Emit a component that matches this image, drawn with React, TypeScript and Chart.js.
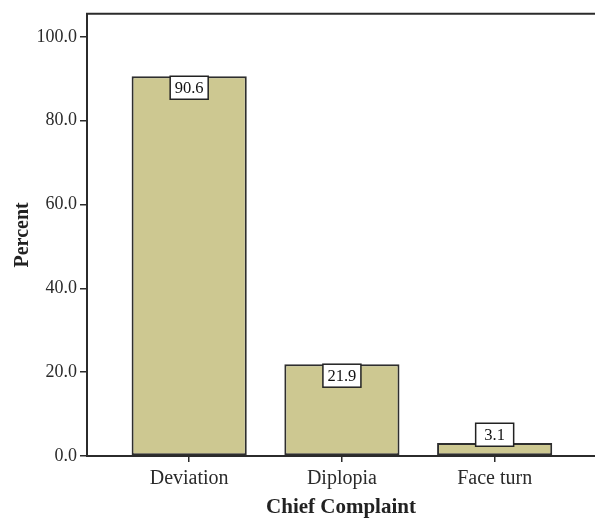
import React, { useEffect, useRef } from "react";
import { Chart, registerables } from "chart.js";

Chart.register(...registerables);

const categories = ["Deviation", "Diplopia", "Face turn"];
const percentValues = [90.6, 21.9, 3.1];
const yTickValues = [0, 20, 40, 60, 80, 100];
const xTitle = "Chief Complaint";
const yTitle = "Percent";

const FONT = "'Liberation Serif', 'DejaVu Serif', serif";
const AXIS = "#2b2b2b";

const labelPlugin = {
  id: "boxLabels",
  afterDatasetsDraw(chart: any) {
    const ctx = chart.ctx;
    const meta = chart.getDatasetMeta(0);
    meta.data.forEach((bar: any, i: number) => {
      const w = 38;
      const h = 23;
      const top = Math.min(bar.y, bar.base - 32);
      const left = bar.x - w / 2;
      ctx.save();
      ctx.fillStyle = "#ffffff";
      ctx.fillRect(left, top, w, h);
      ctx.strokeStyle = "#222";
      ctx.lineWidth = 1.5;
      ctx.strokeRect(left, top, w, h);
      ctx.fillStyle = "#111";
      ctx.font = `16.5px ${FONT}`;
      ctx.textAlign = "center";
      ctx.textBaseline = "middle";
      ctx.fillText(percentValues[i].toFixed(1), bar.x, top + h / 2 + 1);
      ctx.restore();
    });
  },
};

const framePlugin = {
  id: "frameTop",
  afterDraw(chart: any) {
    const { ctx, chartArea } = chart;
    ctx.save();
    ctx.strokeStyle = AXIS;
    ctx.lineWidth = 2;
    ctx.beginPath();
    ctx.moveTo(chartArea.left - 1, chartArea.top);
    ctx.lineTo(chart.width, chartArea.top);
    ctx.stroke();
    ctx.restore();
  },
};

export default function App() {
  const ref = useRef<HTMLCanvasElement | null>(null);
  useEffect(() => {
    document.body.style.margin = "0";
    if (!ref.current) return;
    const chart = new Chart(ref.current, {
      type: "bar",
      data: {
        datasets: [
          {
            data: percentValues.map((v, i) => ({ x: i, y: v })),
            backgroundColor: "#cdc891",
            borderColor: "#2e2e2e",
            borderWidth: 2,
            borderSkipped: false,
            categoryPercentage: 1,
            barPercentage: 0.754,
          },
        ],
      },
      options: {
        animation: false,
        responsive: false,
        layout: { padding: { top: 12, right: 0, left: 0, bottom: 0 } },
        plugins: { legend: { display: false }, tooltip: { enabled: false } },
        scales: {
          x: {
            type: "linear",
            offset: false,
            min: -0.669,
            max: 2.657,
            afterBuildTicks: (scale: any) => {
              scale.ticks = categories.map((_, i) => ({ value: i }));
            },
            afterFit: (scale: any) => {
              scale.height = 62;
            },
            ticks: {
              callback: (v: any) => categories[Math.round(Number(v))],
              font: { family: FONT, size: 20 },
              color: "#2a2a2a",
              padding: 5,
              maxRotation: 0,
              autoSkip: false,
            },
            grid: {
              offset: false,
              drawOnChartArea: false,
              drawTicks: true,
              tickLength: 6,
              color: AXIS,
              lineWidth: 1.5,
            },
            border: { display: true, color: AXIS, width: 2 },
            title: {
              display: true,
              text: xTitle,
              font: { family: FONT, size: 21, weight: "bold", lineHeight: 1.0 },
              color: "#222",
              padding: { top: 0, bottom: 0 },
            },
          },
          y: {
            min: 0,
            max: 105.5,
            afterBuildTicks: (scale: any) => {
              scale.ticks = yTickValues.map((v) => ({ value: v }));
            },
            afterFit: (scale: any) => {
              scale.width = 87;
            },
            ticks: {
              callback: (v: any) => Number(v).toFixed(1),
              font: { family: FONT, size: 18 },
              color: "#2a2a2a",
              padding: 3,
            },
            grid: {
              drawOnChartArea: false,
              drawTicks: true,
              tickLength: 7,
              color: AXIS,
              lineWidth: 1.5,
            },
            border: { display: true, color: AXIS, width: 2 },
            title: {
              display: true,
              text: yTitle,
              font: { family: FONT, size: 20, weight: "bold" },
              color: "#222",
              padding: { top: 11, bottom: 0 },
            },
          },
        },
      },
      plugins: [labelPlugin, framePlugin],
    });
    return () => chart.destroy();
  }, []);
  return (
    <div style={{ width: 595, height: 518 }}>
      <canvas ref={ref} width={595} height={518} style={{ display: "block" }} />
    </div>
  );
}
